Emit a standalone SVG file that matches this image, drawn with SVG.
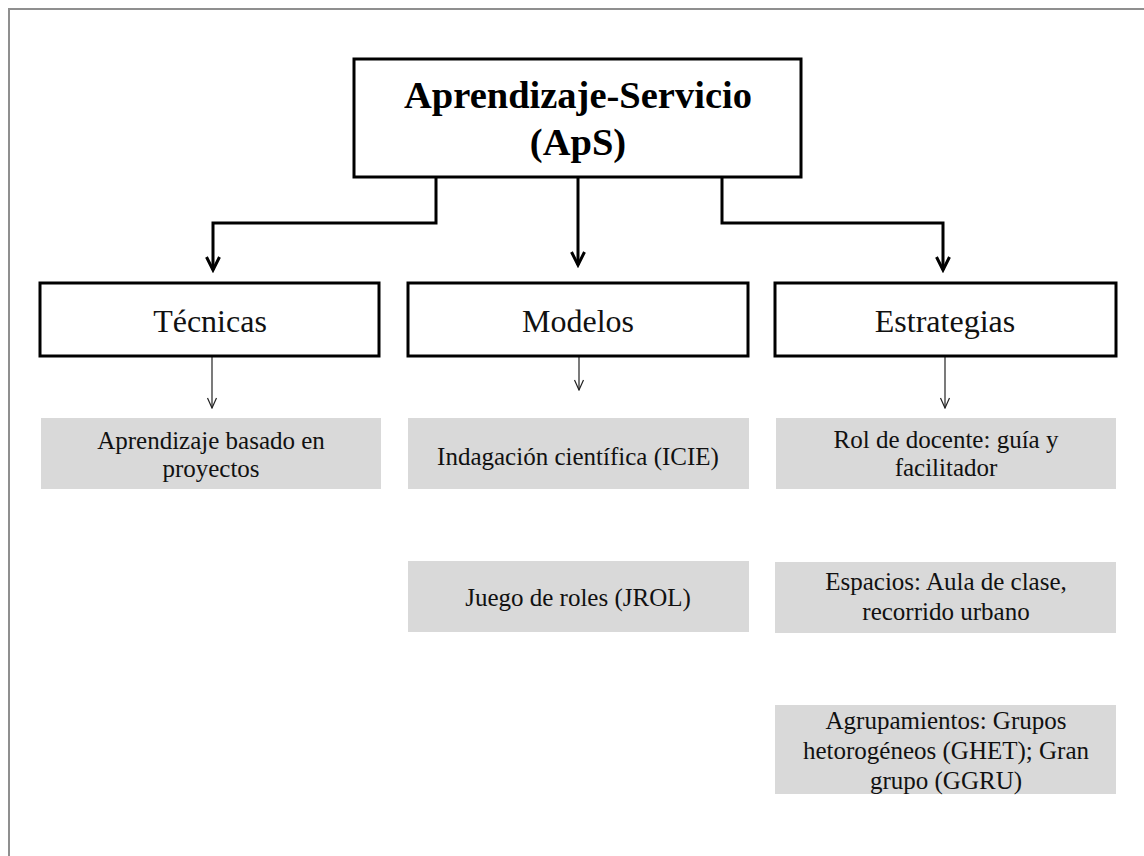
<svg xmlns="http://www.w3.org/2000/svg" width="1144" height="856" viewBox="0 0 1144 856">
  <style>
    .frame { fill: none; stroke: #8f8f8f; stroke-width: 2; }
    .box { fill: #ffffff; stroke: #000000; stroke-width: 3; }
    .gbox { fill: #d9d9d9; stroke: none; }
    .title { font-family: "Liberation Serif", "Times New Roman", serif; font-weight: bold; font-size: 38.5px; fill: #000; text-anchor: middle; }
    .head { font-family: "Liberation Serif", "Times New Roman", serif; font-size: 32px; fill: #111; text-anchor: middle; }
    .item { font-family: "Liberation Serif", "Times New Roman", serif; font-size: 25px; fill: #111; text-anchor: middle; }
    .thick { fill: none; stroke: #000; stroke-width: 3; }
    .thin { fill: none; stroke: #222; stroke-width: 1.2; }
  </style>
  <defs>
    <marker id="ahThick" markerUnits="userSpaceOnUse" markerWidth="18" markerHeight="18" viewBox="0 0 18 18" refX="15" refY="9" orient="auto">
      <path d="M2,2.5 L15,9 L2,15.5" fill="none" stroke="#000" stroke-width="3"/>
    </marker>
    <marker id="ahThin" markerUnits="userSpaceOnUse" markerWidth="12" markerHeight="12" viewBox="0 0 12 12" refX="11" refY="6" orient="auto">
      <path d="M1,1.5 L11,6 L1,10.5" fill="none" stroke="#222" stroke-width="1.2"/>
    </marker>
  </defs>
  <rect width="1144" height="856" fill="#ffffff"/>
  <path class="frame" d="M9,860 V9 H1150"/>

  <g id="connectors">
    <path class="thick" d="M436,177 V223 H213 V270" marker-end="url(#ahThick)"/>
    <path class="thick" d="M578,177 V265" marker-end="url(#ahThick)"/>
    <path class="thick" d="M722,177 V223 H943 V270" marker-end="url(#ahThick)"/>
    <path class="thin" d="M212,357 V408" marker-end="url(#ahThin)"/>
    <path class="thin" d="M579,357 V390" marker-end="url(#ahThin)"/>
    <path class="thin" d="M945,357 V408" marker-end="url(#ahThin)"/>
  </g>

  <g id="aps">
    <rect class="box" x="354" y="59" width="447" height="118"/>
    <text class="title" x="578" y="108">Aprendizaje-Servicio</text>
    <text class="title" x="578" y="155">(ApS)</text>
  </g>

  <g id="tecnicas">
    <rect class="box" x="40" y="283" width="339" height="73"/>
    <text class="head" x="210" y="332">Técnicas</text>
  </g>
  <g id="modelos">
    <rect class="box" x="408" y="283" width="340" height="73"/>
    <text class="head" x="578" y="332">Modelos</text>
  </g>
  <g id="estrategias">
    <rect class="box" x="775" y="283" width="341" height="73"/>
    <text class="head" x="945" y="332">Estrategias</text>
  </g>

  <g id="abp">
    <rect class="gbox" x="41" y="418" width="340" height="71"/>
    <text class="item" x="211" y="449">Aprendizaje basado en</text>
    <text class="item" x="211" y="477">proyectos</text>
  </g>
  <g id="icie">
    <rect class="gbox" x="408" y="418" width="341" height="71"/>
    <text class="item" x="578" y="465">Indagación científica (ICIE)</text>
  </g>
  <g id="jrol">
    <rect class="gbox" x="408" y="561" width="341" height="71"/>
    <text class="item" x="578" y="606">Juego de roles (JROL)</text>
  </g>
  <g id="rol">
    <rect class="gbox" x="776" y="418" width="340" height="71"/>
    <text class="item" x="946" y="448">Rol de docente: guía y</text>
    <text class="item" x="946" y="476">facilitador</text>
  </g>
  <g id="espacios">
    <rect class="gbox" x="775" y="562" width="341" height="71"/>
    <text class="item" x="946" y="590">Espacios: Aula de clase,</text>
    <text class="item" x="946" y="620">recorrido urbano</text>
  </g>
  <g id="agrupamientos">
    <rect class="gbox" x="775" y="705" width="341" height="89"/>
    <text class="item" x="946" y="729">Agrupamientos: Grupos</text>
    <text class="item" x="946" y="759">hetorogéneos (GHET);  Gran</text>
    <text class="item" x="946" y="789">grupo (GGRU)</text>
  </g>
</svg>
